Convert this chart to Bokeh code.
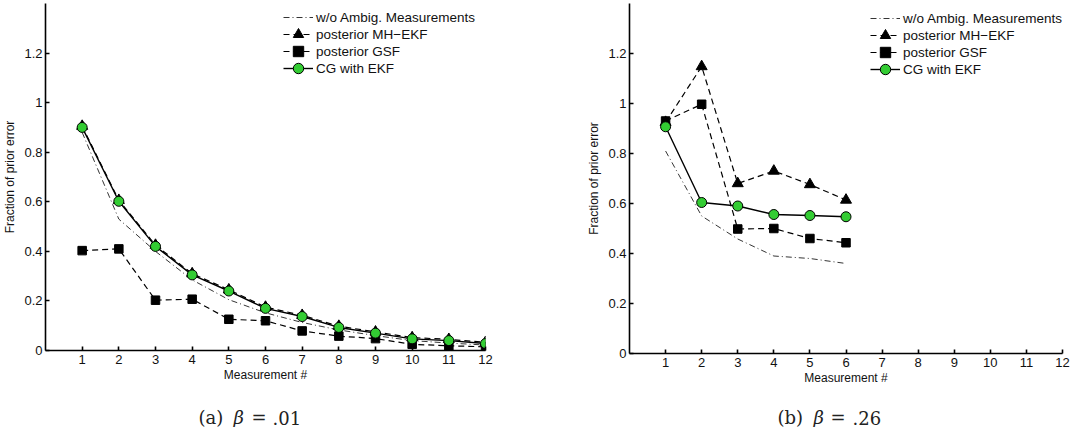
from bokeh.plotting import figure
from bokeh.layouts import row, column
from bokeh.models import Legend, LegendItem, FixedTicker, Label, Range1d
from bokeh.embed import file_html
from bokeh.resources import INLINE

# ---------------- data ----------------
meas_a = [1, 2, 3, 4, 5, 6, 7, 8, 9, 10, 11, 12]
woa_a = [0.88, 0.53, 0.40, 0.285, 0.205, 0.152, 0.113, 0.083, 0.06, 0.04, 0.03, 0.022]
mh_a = [0.905, 0.606, 0.425, 0.31, 0.245, 0.175, 0.142, 0.098, 0.075, 0.052, 0.045, 0.033]
gsf_a = [0.403, 0.41, 0.203, 0.207, 0.126, 0.12, 0.079, 0.058, 0.048, 0.025, 0.019, 0.015]
cg_a = [0.90, 0.602, 0.42, 0.305, 0.24, 0.17, 0.137, 0.093, 0.07, 0.047, 0.04, 0.028]

meas_b = [1, 2, 3, 4, 5, 6]
woa_b = [0.81, 0.55, 0.458, 0.39, 0.38, 0.36]
mh_b = [0.925, 1.148, 0.68, 0.73, 0.676, 0.614]
gsf_b = [0.93, 0.997, 0.498, 0.50, 0.46, 0.443]
cg_b = [0.907, 0.604, 0.59, 0.556, 0.552, 0.547]

x_ticks = [1, 2, 3, 4, 5, 6, 7, 8, 9, 10, 11, 12]
y_ticks = [0, 0.2, 0.4, 0.6, 0.8, 1, 1.2]
y_tick_labels = ["0", "0.2", "0.4", "0.6", "0.8", "1", "1.2"]

series_labels = ["w/o Ambig. Measurements", "posterior MH\u2212EKF", "posterior GSF", "CG with EKF"]
captions = [("(a)", "\u03b2", "=", ".01"), ("(b)", "\u03b2", "=", ".26")]
x_label = "Measurement #"
y_label = "Fraction of prior error"

GREEN = "#33cc33"
SANS = "Liberation Sans"
SERIF = "DejaVu Serif"
MAIN_H = 395
CAP_H = 32


def build(xs, woa, mh, gsf, cg, bl, fw, br, bt, fh, leg_x, leg_ys):
    p = figure(frame_width=fw, frame_height=fh,
               min_border_left=bl, min_border_right=br,
               min_border_top=bt, min_border_bottom=MAIN_H - bt - fh,
               x_range=Range1d(0, 12), y_range=Range1d(0, 1.4),
               output_backend="svg", toolbar_location=None,
               background_fill_color="white", border_fill_color="white")
    p.outline_line_color = None
    p.xgrid.grid_line_color = None
    p.ygrid.grid_line_color = None

    p.xaxis.ticker = FixedTicker(ticks=x_ticks)
    p.yaxis.ticker = FixedTicker(ticks=y_ticks)
    p.yaxis.major_label_overrides = dict(zip(y_ticks, y_tick_labels))
    for ax in (p.xaxis[0], p.yaxis[0]):
        ax.axis_line_color = "black"
        ax.axis_line_width = 1.6
        ax.major_tick_in = 4
        ax.major_tick_out = 0
        ax.major_tick_line_width = 1.6
        ax.major_tick_line_color = "black"
        ax.minor_tick_line_color = None
        ax.major_label_text_font = SANS
        ax.major_label_text_font_size = "13px"
        ax.major_label_text_color = "#111111"
        ax.major_label_standoff = 3
        ax.axis_label_text_font = SANS
        ax.axis_label_text_font_size = "12px"
        ax.axis_label_text_font_style = "normal"
        ax.axis_label_text_color = "#111111"
    p.xaxis.axis_label = x_label
    p.yaxis.axis_label = y_label
    p.xaxis.major_label_standoff = 4
    p.xaxis.axis_label_standoff = 1
    p.yaxis.axis_label_standoff = 4

    r_woa = p.line(xs, woa, line_color="black", line_width=0.8, line_dash="6 3 1 3")
    l_gsf = p.line(xs, gsf, line_color="black", line_width=1.2, line_dash="6 4")
    s_gsf = p.scatter(xs, gsf, marker="square", size=8.5, fill_color="black", line_color="black")
    l_mh = p.line(xs, mh, line_color="black", line_width=1.2, line_dash="6 4")
    s_mh = p.scatter(xs, mh, marker="triangle", size=11, fill_color="black", line_color="black")
    l_cg = p.line(xs, cg, line_color="black", line_width=1.4)
    s_cg = p.scatter(xs, cg, marker="circle", size=10, fill_color=GREEN, line_color="black", line_width=1)

    groups = [[r_woa], [l_mh, s_mh], [l_gsf, s_gsf], [l_cg, s_cg]]
    for lab, rends, ly in zip(series_labels, groups, leg_ys):
        legend = Legend(items=[LegendItem(label=lab, renderers=rends)],
                        location=(leg_x, ly), padding=0, margin=0, spacing=0,
                        glyph_width=30, glyph_height=26, label_height=14, label_standoff=3,
                        label_text_font=SANS, label_text_font_size="13.5px",
                        label_text_color="#111111",
                        border_line_color=None, background_fill_alpha=0)
        p.add_layout(legend)
    return p


def caption(cap, cap_x):
    c = figure(width=543, height=CAP_H, x_range=Range1d(0, 543), y_range=Range1d(0, CAP_H),
               min_border=0, x_axis_location=None, y_axis_location=None,
               output_backend="svg", toolbar_location=None)
    c.outline_line_color = None
    c.xgrid.grid_line_color = None
    c.ygrid.grid_line_color = None
    styles = ["normal", "italic", "normal", "normal"]
    for txt, xx, st in zip(cap, cap_x, styles):
        c.add_layout(Label(x=xx, y=10, text=txt,
                           text_font=SERIF, text_font_size="18px", text_font_style=st,
                           text_color="#222222", text_baseline="alphabetic", text_align="left"))
    return c


p1 = build(meas_a, woa_a, mh_a, gsf_a, cg_a, 45, 440, 58, 3, 347, 238, [320, 303, 286, 269])
p2 = build(meas_b, woa_b, mh_b, gsf_b, cg_b, 86, 433, 24, 0, 350, 241, [322, 305, 288, 271])
c1 = caption(captions[0], [198, 233, 251, 272])
c2 = caption(captions[1], [234, 270, 287, 309])

layout = column(row(p1, p2), row(c1, c2))
open("out.html", "w").write(file_html(layout, INLINE))
